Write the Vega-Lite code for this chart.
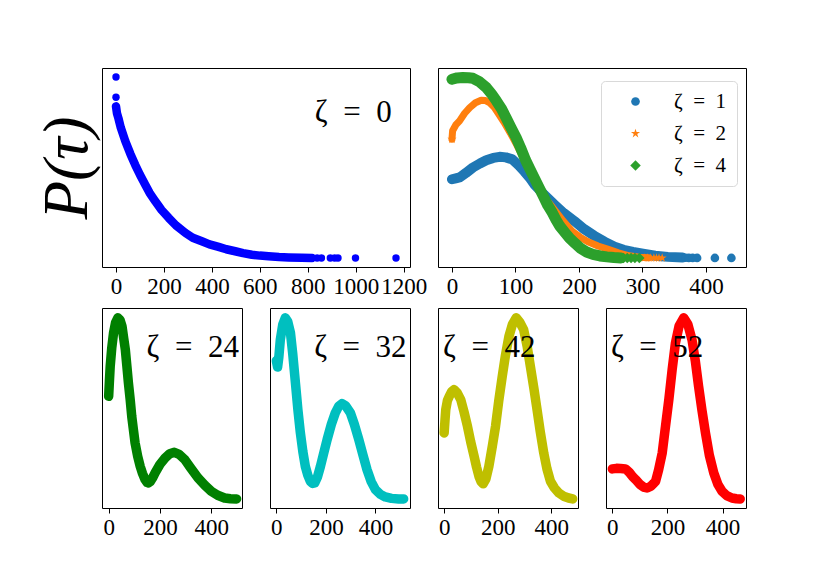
{
  "$schema": "https://vega.github.io/schema/vega-lite/v6.json",
  "background": "white",
  "padding": {"left": 35, "top": 67, "right": 10, "bottom": 10},
  "datasets": {
    "z0": [
      {"tau": 0, "p": 0.838}, {"tau": 4, "p": 0.8}, {"tau": 10, "p": 0.773}, {"tau": 20, "p": 0.72},
      {"tau": 39, "p": 0.645}, {"tau": 60, "p": 0.575}, {"tau": 80, "p": 0.515}, {"tau": 100, "p": 0.46},
      {"tau": 122, "p": 0.405}, {"tau": 140, "p": 0.36}, {"tau": 164, "p": 0.313}, {"tau": 190, "p": 0.265},
      {"tau": 220, "p": 0.221}, {"tau": 250, "p": 0.18}, {"tau": 290, "p": 0.138}, {"tau": 320, "p": 0.112},
      {"tau": 358, "p": 0.092}, {"tau": 390, "p": 0.075}, {"tau": 428, "p": 0.061}, {"tau": 460, "p": 0.048},
      {"tau": 497, "p": 0.037}, {"tau": 530, "p": 0.027}, {"tau": 567, "p": 0.018}, {"tau": 600, "p": 0.013},
      {"tau": 636, "p": 0.009}, {"tau": 680, "p": 0.005}, {"tau": 720, "p": 0.003}, {"tau": 775, "p": 0.001},
      {"tau": 818, "p": 0.0}
    ],
    "z0pts": [
      {"tau": 0, "p": 1.0}, {"tau": 0, "p": 0.888}, {"tau": 839, "p": 0.0}, {"tau": 857, "p": 0.0},
      {"tau": 894, "p": 0.0}, {"tau": 912, "p": 0.0}, {"tau": 926, "p": 0.0}, {"tau": 999, "p": 0.0},
      {"tau": 1168, "p": 0.0}
    ],
    "tr": [
      {"s": "ζ\u2002=\u20021", "tau": 0, "p": 0.435}, {"s": "ζ\u2002=\u20021", "tau": 6, "p": 0.44}, {"s": "ζ\u2002=\u20021", "tau": 12, "p": 0.445},
      {"s": "ζ\u2002=\u20021", "tau": 22, "p": 0.47}, {"s": "ζ\u2002=\u20021", "tau": 33, "p": 0.5}, {"s": "ζ\u2002=\u20021", "tau": 44, "p": 0.522},
      {"s": "ζ\u2002=\u20021", "tau": 54, "p": 0.54}, {"s": "ζ\u2002=\u20021", "tau": 65, "p": 0.553}, {"s": "ζ\u2002=\u20021", "tau": 75, "p": 0.559},
      {"s": "ζ\u2002=\u20021", "tau": 85, "p": 0.556}, {"s": "ζ\u2002=\u20021", "tau": 95, "p": 0.545}, {"s": "ζ\u2002=\u20021", "tau": 106, "p": 0.509},
      {"s": "ζ\u2002=\u20021", "tau": 114, "p": 0.478}, {"s": "ζ\u2002=\u20021", "tau": 122, "p": 0.445}, {"s": "ζ\u2002=\u20021", "tau": 130, "p": 0.406},
      {"s": "ζ\u2002=\u20021", "tau": 145, "p": 0.35}, {"s": "ζ\u2002=\u20021", "tau": 161, "p": 0.296}, {"s": "ζ\u2002=\u20021", "tau": 176, "p": 0.248},
      {"s": "ζ\u2002=\u20021", "tau": 193, "p": 0.203}, {"s": "ζ\u2002=\u20021", "tau": 208, "p": 0.16}, {"s": "ζ\u2002=\u20021", "tau": 224, "p": 0.123},
      {"s": "ζ\u2002=\u20021", "tau": 240, "p": 0.09}, {"s": "ζ\u2002=\u20021", "tau": 256, "p": 0.062}, {"s": "ζ\u2002=\u20021", "tau": 270, "p": 0.045},
      {"s": "ζ\u2002=\u20021", "tau": 285, "p": 0.033}, {"s": "ζ\u2002=\u20021", "tau": 303, "p": 0.022}, {"s": "ζ\u2002=\u20021", "tau": 320, "p": 0.012},
      {"s": "ζ\u2002=\u20021", "tau": 340, "p": 0.006}, {"s": "ζ\u2002=\u20021", "tau": 363, "p": 0.002},
      {"s": "ζ\u2002=\u20022", "tau": 0, "p": 0.656}, {"s": "ζ\u2002=\u20022", "tau": 1, "p": 0.703}, {"s": "ζ\u2002=\u20022", "tau": 6, "p": 0.735},
      {"s": "ζ\u2002=\u20022", "tau": 12, "p": 0.758}, {"s": "ζ\u2002=\u20022", "tau": 20, "p": 0.8}, {"s": "ζ\u2002=\u20022", "tau": 28, "p": 0.831},
      {"s": "ζ\u2002=\u20022", "tau": 37, "p": 0.858}, {"s": "ζ\u2002=\u20022", "tau": 46, "p": 0.872}, {"s": "ζ\u2002=\u20022", "tau": 53, "p": 0.87},
      {"s": "ζ\u2002=\u20022", "tau": 59, "p": 0.859}, {"s": "ζ\u2002=\u20022", "tau": 66, "p": 0.835}, {"s": "ζ\u2002=\u20022", "tau": 72, "p": 0.804},
      {"s": "ζ\u2002=\u20022", "tau": 82, "p": 0.75}, {"s": "ζ\u2002=\u20022", "tau": 92, "p": 0.69}, {"s": "ζ\u2002=\u20022", "tau": 102, "p": 0.625},
      {"s": "ζ\u2002=\u20022", "tau": 112, "p": 0.555}, {"s": "ζ\u2002=\u20022", "tau": 122, "p": 0.48}, {"s": "ζ\u2002=\u20022", "tau": 132, "p": 0.41},
      {"s": "ζ\u2002=\u20022", "tau": 145, "p": 0.34}, {"s": "ζ\u2002=\u20022", "tau": 160, "p": 0.273}, {"s": "ζ\u2002=\u20022", "tau": 175, "p": 0.205},
      {"s": "ζ\u2002=\u20022", "tau": 190, "p": 0.145}, {"s": "ζ\u2002=\u20022", "tau": 202, "p": 0.115}, {"s": "ζ\u2002=\u20022", "tau": 214, "p": 0.09},
      {"s": "ζ\u2002=\u20022", "tau": 230, "p": 0.066}, {"s": "ζ\u2002=\u20022", "tau": 245, "p": 0.049}, {"s": "ζ\u2002=\u20022", "tau": 262, "p": 0.028},
      {"s": "ζ\u2002=\u20022", "tau": 279, "p": 0.012}, {"s": "ζ\u2002=\u20022", "tau": 295, "p": 0.004}, {"s": "ζ\u2002=\u20022", "tau": 310, "p": 0.001},
      {"s": "ζ\u2002=\u20024", "tau": 0, "p": 0.988}, {"s": "ζ\u2002=\u20024", "tau": 8, "p": 0.995}, {"s": "ζ\u2002=\u20024", "tau": 17, "p": 0.997},
      {"s": "ζ\u2002=\u20024", "tau": 26, "p": 0.996}, {"s": "ζ\u2002=\u20024", "tau": 33, "p": 0.993}, {"s": "ζ\u2002=\u20024", "tau": 43, "p": 0.975},
      {"s": "ζ\u2002=\u20024", "tau": 54, "p": 0.942}, {"s": "ζ\u2002=\u20024", "tau": 62, "p": 0.908}, {"s": "ζ\u2002=\u20024", "tau": 70, "p": 0.868},
      {"s": "ζ\u2002=\u20024", "tau": 78, "p": 0.825}, {"s": "ζ\u2002=\u20024", "tau": 85, "p": 0.776}, {"s": "ζ\u2002=\u20024", "tau": 93, "p": 0.72},
      {"s": "ζ\u2002=\u20024", "tau": 101, "p": 0.666}, {"s": "ζ\u2002=\u20024", "tau": 108, "p": 0.61}, {"s": "ζ\u2002=\u20024", "tau": 116, "p": 0.54},
      {"s": "ζ\u2002=\u20024", "tau": 123, "p": 0.49}, {"s": "ζ\u2002=\u20024", "tau": 130, "p": 0.44}, {"s": "ζ\u2002=\u20024", "tau": 137, "p": 0.39},
      {"s": "ζ\u2002=\u20024", "tau": 144, "p": 0.34}, {"s": "ζ\u2002=\u20024", "tau": 151, "p": 0.29}, {"s": "ζ\u2002=\u20024", "tau": 158, "p": 0.25},
      {"s": "ζ\u2002=\u20024", "tau": 164, "p": 0.21}, {"s": "ζ\u2002=\u20024", "tau": 170, "p": 0.175}, {"s": "ζ\u2002=\u20024", "tau": 178, "p": 0.14},
      {"s": "ζ\u2002=\u20024", "tau": 185, "p": 0.11}, {"s": "ζ\u2002=\u20024", "tau": 194, "p": 0.08}, {"s": "ζ\u2002=\u20024", "tau": 203, "p": 0.052},
      {"s": "ζ\u2002=\u20024", "tau": 212, "p": 0.033}, {"s": "ζ\u2002=\u20024", "tau": 222, "p": 0.02}, {"s": "ζ\u2002=\u20024", "tau": 233, "p": 0.011},
      {"s": "ζ\u2002=\u20024", "tau": 244, "p": 0.006}, {"s": "ζ\u2002=\u20024", "tau": 255, "p": 0.002}, {"s": "ζ\u2002=\u20024", "tau": 266, "p": 0.0}
    ],
    "trpts": [
      {"s": "ζ\u2002=\u20021", "tau": 0, "p": 0.435}, {"s": "ζ\u2002=\u20021", "tau": 368, "p": 0.001}, {"s": "ζ\u2002=\u20021", "tau": 373, "p": 0.0},
      {"s": "ζ\u2002=\u20021", "tau": 379, "p": 0.0}, {"s": "ζ\u2002=\u20021", "tau": 386, "p": 0.0}, {"s": "ζ\u2002=\u20021", "tau": 414, "p": 0.0},
      {"s": "ζ\u2002=\u20021", "tau": 440, "p": 0.0},
      {"s": "ζ\u2002=\u20022", "tau": 0, "p": 0.656}, {"s": "ζ\u2002=\u20022", "tau": 303, "p": 0.0}, {"s": "ζ\u2002=\u20022", "tau": 308, "p": 0.0},
      {"s": "ζ\u2002=\u20022", "tau": 313, "p": 0.0}, {"s": "ζ\u2002=\u20022", "tau": 318, "p": 0.0}, {"s": "ζ\u2002=\u20022", "tau": 322, "p": 0.0},
      {"s": "ζ\u2002=\u20022", "tau": 326, "p": 0.0}, {"s": "ζ\u2002=\u20022", "tau": 331, "p": 0.0},
      {"s": "ζ\u2002=\u20024", "tau": 0, "p": 0.988}, {"s": "ζ\u2002=\u20024", "tau": 270, "p": 0.0}, {"s": "ζ\u2002=\u20024", "tau": 276, "p": 0.0},
      {"s": "ζ\u2002=\u20024", "tau": 282, "p": 0.0}, {"s": "ζ\u2002=\u20024", "tau": 288, "p": 0.0}, {"s": "ζ\u2002=\u20024", "tau": 295, "p": 0.0}
    ],
    "z24": [
      {"tau": 0, "p": 0.564}, {"tau": 3, "p": 0.65}, {"tau": 6, "p": 0.729}, {"tau": 12, "p": 0.83},
      {"tau": 19, "p": 0.913}, {"tau": 27, "p": 0.97}, {"tau": 36, "p": 0.996}, {"tau": 44, "p": 0.985},
      {"tau": 52, "p": 0.95}, {"tau": 58, "p": 0.89}, {"tau": 65, "p": 0.821}, {"tau": 71, "p": 0.73},
      {"tau": 77, "p": 0.638}, {"tau": 84, "p": 0.545}, {"tau": 90, "p": 0.454}, {"tau": 97, "p": 0.375},
      {"tau": 103, "p": 0.308}, {"tau": 113, "p": 0.235}, {"tau": 123, "p": 0.179}, {"tau": 132, "p": 0.14},
      {"tau": 142, "p": 0.106}, {"tau": 150, "p": 0.09}, {"tau": 155, "p": 0.088}, {"tau": 162, "p": 0.095},
      {"tau": 171, "p": 0.115}, {"tau": 181, "p": 0.143}, {"tau": 200, "p": 0.19}, {"tau": 220, "p": 0.225},
      {"tau": 238, "p": 0.248}, {"tau": 256, "p": 0.256}, {"tau": 275, "p": 0.245}, {"tau": 297, "p": 0.216},
      {"tau": 320, "p": 0.17}, {"tau": 348, "p": 0.116}, {"tau": 375, "p": 0.075}, {"tau": 400, "p": 0.042},
      {"tau": 425, "p": 0.02}, {"tau": 452, "p": 0.005}, {"tau": 475, "p": 0.001}, {"tau": 499, "p": 0.0}
    ],
    "z32": [
      {"tau": 0, "p": 0.76}, {"tau": 5, "p": 0.725}, {"tau": 10, "p": 0.78}, {"tau": 16, "p": 0.876},
      {"tau": 26, "p": 0.96}, {"tau": 36, "p": 0.996}, {"tau": 46, "p": 0.975}, {"tau": 57, "p": 0.913},
      {"tau": 66, "p": 0.8}, {"tau": 77, "p": 0.638}, {"tau": 87, "p": 0.49}, {"tau": 97, "p": 0.363},
      {"tau": 107, "p": 0.26}, {"tau": 117, "p": 0.179}, {"tau": 127, "p": 0.13}, {"tau": 137, "p": 0.097},
      {"tau": 146, "p": 0.085}, {"tau": 155, "p": 0.088}, {"tau": 166, "p": 0.12}, {"tau": 178, "p": 0.179},
      {"tau": 191, "p": 0.25}, {"tau": 205, "p": 0.326}, {"tau": 222, "p": 0.41}, {"tau": 238, "p": 0.473},
      {"tau": 252, "p": 0.51}, {"tau": 265, "p": 0.524}, {"tau": 280, "p": 0.512}, {"tau": 299, "p": 0.473},
      {"tau": 315, "p": 0.41}, {"tau": 333, "p": 0.326}, {"tau": 350, "p": 0.24}, {"tau": 366, "p": 0.161},
      {"tau": 383, "p": 0.095}, {"tau": 400, "p": 0.051}, {"tau": 420, "p": 0.025}, {"tau": 440, "p": 0.011},
      {"tau": 465, "p": 0.003}, {"tau": 494, "p": 0.0}, {"tau": 514, "p": 0.0}
    ],
    "z42": [
      {"tau": 0, "p": 0.363}, {"tau": 3, "p": 0.43}, {"tau": 6, "p": 0.491}, {"tau": 12, "p": 0.54},
      {"tau": 19, "p": 0.564}, {"tau": 28, "p": 0.59}, {"tau": 37, "p": 0.601}, {"tau": 48, "p": 0.585},
      {"tau": 62, "p": 0.546}, {"tau": 74, "p": 0.48}, {"tau": 87, "p": 0.4}, {"tau": 99, "p": 0.315},
      {"tau": 112, "p": 0.234}, {"tau": 121, "p": 0.175}, {"tau": 130, "p": 0.124}, {"tau": 138, "p": 0.095},
      {"tau": 146, "p": 0.083}, {"tau": 156, "p": 0.11}, {"tau": 167, "p": 0.179}, {"tau": 180, "p": 0.29},
      {"tau": 192, "p": 0.4}, {"tau": 204, "p": 0.54}, {"tau": 217, "p": 0.674}, {"tau": 229, "p": 0.79},
      {"tau": 242, "p": 0.894}, {"tau": 255, "p": 0.96}, {"tau": 269, "p": 0.996}, {"tau": 283, "p": 0.97},
      {"tau": 297, "p": 0.931}, {"tau": 310, "p": 0.84}, {"tau": 322, "p": 0.729}, {"tau": 335, "p": 0.61},
      {"tau": 347, "p": 0.491}, {"tau": 359, "p": 0.37}, {"tau": 372, "p": 0.253}, {"tau": 384, "p": 0.165},
      {"tau": 397, "p": 0.097}, {"tau": 412, "p": 0.06}, {"tau": 428, "p": 0.033}, {"tau": 446, "p": 0.015},
      {"tau": 465, "p": 0.005}, {"tau": 480, "p": 0.0}
    ],
    "z52": [
      {"tau": 0, "p": 0.165}, {"tau": 15, "p": 0.168}, {"tau": 30, "p": 0.167}, {"tau": 48, "p": 0.165},
      {"tau": 62, "p": 0.145}, {"tau": 75, "p": 0.12}, {"tau": 85, "p": 0.106}, {"tau": 100, "p": 0.08},
      {"tau": 113, "p": 0.065}, {"tau": 126, "p": 0.06}, {"tau": 140, "p": 0.07}, {"tau": 150, "p": 0.085},
      {"tau": 157, "p": 0.097}, {"tau": 168, "p": 0.16}, {"tau": 181, "p": 0.253}, {"tau": 193, "p": 0.4},
      {"tau": 205, "p": 0.546}, {"tau": 217, "p": 0.71}, {"tau": 229, "p": 0.858}, {"tau": 242, "p": 0.95},
      {"tau": 259, "p": 0.996}, {"tau": 274, "p": 0.96}, {"tau": 289, "p": 0.876}, {"tau": 301, "p": 0.76},
      {"tau": 313, "p": 0.619}, {"tau": 325, "p": 0.49}, {"tau": 338, "p": 0.363}, {"tau": 352, "p": 0.24},
      {"tau": 368, "p": 0.143}, {"tau": 383, "p": 0.08}, {"tau": 398, "p": 0.042}, {"tau": 415, "p": 0.018},
      {"tau": 434, "p": 0.005}, {"tau": 450, "p": 0.001}, {"tau": 464, "p": 0.0}
    ]
  },
  "vconcat": [
    {
      "hconcat": [
        {
          "width": 308,
          "height": 199,
          "layer": [
            {
              "data": {"name": "z0"},
              "mark": {"type": "line", "color": "#0000ff", "strokeWidth": 8.5, "strokeCap": "round", "strokeJoin": "round"},
              "encoding": {
                "x": {"field": "tau", "type": "quantitative", "title": null, "scale": {"domain": [-58.4, 1226.4], "nice": false, "zero": false}, "axis": {"values": [0, 200, 400, 600, 800, 1000, 1200], "format": "d"}},
                "y": {"field": "p", "type": "quantitative", "title": "P(τ)", "scale": {"domain": [-0.05, 1.05], "nice": false, "zero": false}, "axis": {"labels": false, "ticks": false, "titleFont": "Liberation Serif", "titleFontStyle": "italic", "titleFontWeight": "normal", "titleFontSize": 63, "titleColor": "black", "titlePadding": 3}}
              }
            },
            {
              "data": {"name": "z0pts"},
              "mark": {"type": "circle", "color": "#0000ff", "size": 55, "opacity": 1},
              "encoding": {
                "x": {"field": "tau", "type": "quantitative"},
                "y": {"field": "p", "type": "quantitative"}
              }
            },
            {
              "data": {"values": [{"tau": 1150, "p": 0.8, "label": "ζ\u2002=\u20020"}]},
              "mark": {"type": "text", "align": "right", "baseline": "middle"},
              "encoding": {
                "x": {"field": "tau", "type": "quantitative"},
                "y": {"field": "p", "type": "quantitative"},
                "text": {"field": "label"}
              }
            }
          ]
        },
        {
          "width": 308,
          "height": 199,
          "encoding": {
            "x": {"field": "tau", "type": "quantitative", "title": null, "scale": {"domain": [-22, 463], "nice": false, "zero": false}, "axis": {"values": [0, 100, 200, 300, 400]}},
            "y": {"field": "p", "type": "quantitative", "scale": {"domain": [-0.05, 1.05], "nice": false, "zero": false}, "axis": null}
          },
          "layer": [
            {
              "data": {"name": "tr"},
              "transform": [{"filter": "datum.s == 'ζ\u2002=\u20021'"}],
              "mark": {"type": "line", "color": "#1f77b4", "strokeWidth": 10, "strokeCap": "round", "strokeJoin": "round"}
            },
            {
              "data": {"name": "tr"},
              "transform": [{"filter": "datum.s == 'ζ\u2002=\u20022'"}],
              "mark": {"type": "line", "color": "#ff7f0e", "strokeWidth": 7, "strokeCap": "round", "strokeJoin": "round"}
            },
            {
              "data": {"name": "tr"},
              "transform": [{"filter": "datum.s == 'ζ\u2002=\u20024'"}],
              "mark": {"type": "line", "color": "#2ca02c", "strokeWidth": 11, "strokeCap": "round", "strokeJoin": "round"}
            },
            {
              "data": {"name": "trpts"},
              "mark": {"type": "point", "filled": true, "opacity": 1},
              "encoding": {
                "color": {"field": "s", "type": "nominal", "title": null, "scale": {"domain": ["ζ\u2002=\u20021", "ζ\u2002=\u20022", "ζ\u2002=\u20024"], "range": ["#1f77b4", "#ff7f0e", "#2ca02c"]}, "legend": {"orient": "none", "legendX": 499, "legendY": 13}},
                "shape": {"field": "s", "type": "nominal", "title": null, "scale": {"domain": ["ζ\u2002=\u20021", "ζ\u2002=\u20022", "ζ\u2002=\u20024"], "range": ["circle", "M0,-1L0.225,-0.309L0.951,-0.309L0.363,0.118L0.588,0.809L0,0.382L-0.588,0.809L-0.363,0.118L-0.951,-0.309L-0.225,-0.309Z", "diamond"]}, "legend": {"orient": "none", "legendX": 499, "legendY": 13}},
                "size": {"field": "s", "type": "nominal", "title": null, "scale": {"domain": ["ζ\u2002=\u20021", "ζ\u2002=\u20022", "ζ\u2002=\u20024"], "range": [75, 110, 130]}, "legend": {"orient": "none", "legendX": 499, "legendY": 13}}
              }
            }
          ]
        }
      ],
      "spacing": 28,
      "bounds": "flush"
    },
    {
      "hconcat": [
        {
          "width": 140,
          "height": 200,
          "layer": [
            {
              "data": {"name": "z24"},
              "mark": {"type": "line", "color": "#008000", "strokeWidth": 9.5, "strokeCap": "round", "strokeJoin": "round"},
              "encoding": {
                "x": {"field": "tau", "type": "quantitative", "title": null, "scale": {"domain": [-26, 520], "nice": false, "zero": false}, "axis": {"values": [0, 200, 400]}},
                "y": {"field": "p", "type": "quantitative", "scale": {"domain": [-0.05, 1.05], "nice": false, "zero": false}, "axis": null}
              }
            },
            {
              "data": {"values": [{"tau": 508, "p": 0.83, "label": "ζ\u2002=\u200224"}]},
              "mark": {"type": "text", "align": "right", "baseline": "middle"},
              "encoding": {
                "x": {"field": "tau", "type": "quantitative"},
                "y": {"field": "p", "type": "quantitative"},
                "text": {"field": "label"}
              }
            }
          ]
        },
        {
          "width": 140,
          "height": 200,
          "layer": [
            {
              "data": {"name": "z32"},
              "mark": {"type": "line", "color": "#00bfbf", "strokeWidth": 9.5, "strokeCap": "round", "strokeJoin": "round"},
              "encoding": {
                "x": {"field": "tau", "type": "quantitative", "title": null, "scale": {"domain": [-25.7, 539.7], "nice": false, "zero": false}, "axis": {"values": [0, 200, 400]}},
                "y": {"field": "p", "type": "quantitative", "scale": {"domain": [-0.05, 1.05], "nice": false, "zero": false}, "axis": null}
              }
            },
            {
              "data": {"values": [{"tau": 526, "p": 0.83, "label": "ζ\u2002=\u200232"}]},
              "mark": {"type": "text", "align": "right", "baseline": "middle"},
              "encoding": {
                "x": {"field": "tau", "type": "quantitative"},
                "y": {"field": "p", "type": "quantitative"},
                "text": {"field": "label"}
              }
            }
          ]
        },
        {
          "width": 140,
          "height": 200,
          "layer": [
            {
              "data": {"name": "z42"},
              "mark": {"type": "line", "color": "#bfbf00", "strokeWidth": 9.5, "strokeCap": "round", "strokeJoin": "round"},
              "encoding": {
                "x": {"field": "tau", "type": "quantitative", "title": null, "scale": {"domain": [-23, 500], "nice": false, "zero": false}, "axis": {"values": [0, 200, 400]}},
                "y": {"field": "p", "type": "quantitative", "scale": {"domain": [-0.05, 1.05], "nice": false, "zero": false}, "axis": null}
              }
            },
            {
              "data": {"values": [{"tau": -4, "p": 0.83, "label": "ζ\u2002=\u200242"}]},
              "mark": {"type": "text", "align": "left", "baseline": "middle"},
              "encoding": {
                "x": {"field": "tau", "type": "quantitative"},
                "y": {"field": "p", "type": "quantitative"},
                "text": {"field": "label"}
              }
            }
          ]
        },
        {
          "width": 140,
          "height": 200,
          "layer": [
            {
              "data": {"name": "z52"},
              "mark": {"type": "line", "color": "#ff0000", "strokeWidth": 9.5, "strokeCap": "round", "strokeJoin": "round"},
              "encoding": {
                "x": {"field": "tau", "type": "quantitative", "title": null, "scale": {"domain": [-23, 485], "nice": false, "zero": false}, "axis": {"values": [0, 200, 400]}},
                "y": {"field": "p", "type": "quantitative", "scale": {"domain": [-0.05, 1.05], "nice": false, "zero": false}, "axis": null}
              }
            },
            {
              "data": {"values": [{"tau": -5, "p": 0.83, "label": "ζ\u2002=\u200252"}]},
              "mark": {"type": "text", "align": "left", "baseline": "middle"},
              "encoding": {
                "x": {"field": "tau", "type": "quantitative"},
                "y": {"field": "p", "type": "quantitative"},
                "text": {"field": "label"}
              }
            }
          ]
        }
      ],
      "spacing": 28,
      "bounds": "flush"
    }
  ],
  "spacing": 8,
  "config": {
    "view": {"stroke": "black", "strokeWidth": 1},
    "axis": {
      "grid": false,
      "domain": false,
      "tickColor": "black",
      "tickSize": 5,
      "tickWidth": 1,
      "labelFont": "Liberation Serif",
      "labelFontSize": 23,
      "labelColor": "black",
      "labelPadding": 3,
      "labelOverlap": false,
      "labelFlush": false,
      "labelBound": false
    },
    "text": {"font": "Liberation Serif", "fontSize": 31, "color": "black"},
    "legend": {
      "padding": 10,
      "strokeColor": "#d9d9d9",
      "fillColor": "white",
      "cornerRadius": 4,
      "labelFont": "Liberation Serif",
      "labelFontSize": 21,
      "labelColor": "black",
      "labelOffset": 28,
      "symbolOffset": 14,
      "rowPadding": 10,
      "symbolStrokeWidth": 0
    }
  }
}
